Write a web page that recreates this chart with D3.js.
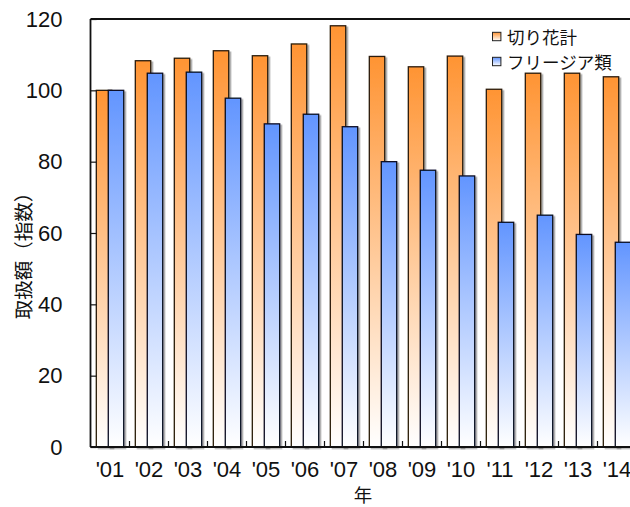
<!DOCTYPE html>
<html>
<head>
<meta charset="utf-8">
<script src="https://cdn.jsdelivr.net/npm/d3@7/dist/d3.min.js"></script>
<style>
  html, body { margin: 0; padding: 0; background: #fff; }
  svg { display: block; }
</style>
</head>
<body>
<svg id="chart" width="630" height="507"></svg>
<script>
// Index of trading value (2001 = 100)
const years = ["'01", "'02", "'03", "'04", "'05", "'06", "'07", "'08", "'09", "'10", "'11", "'12", "'13", "'14"];
const cutFlowers = [100, 108.3, 109.0, 111.1, 109.7, 113.0, 118.1, 109.5, 106.6, 109.6, 100.3, 104.8, 104.8, 103.8];
const freesia = [100, 104.8, 105.1, 97.8, 90.6, 93.3, 89.8, 80.0, 77.6, 76.0, 63.0, 65.0, 59.6, 57.4];
const seriesNames = ["切り花計", "フリージア類"];
const yTicks = [0, 20, 40, 60, 80, 100, 120];

const svg = d3.select("#chart");
const plotLeft = 90.5, plotTop = 19, plotBottom = 447, band = 39;

const x = d3.scaleBand().domain(years).range([plotLeft, plotLeft + band * years.length]);
const y = d3.scaleLinear().domain([0, 120]).range([plotBottom, plotTop]);
const bw = x.bandwidth();

const defs = svg.append("defs");
function grad(id, color) {
  const g = defs.append("linearGradient").attr("id", id)
    .attr("x1", 0).attr("y1", 0).attr("x2", 0).attr("y2", 1);
  g.append("stop").attr("offset", "0%").attr("stop-color", color);
  g.append("stop").attr("offset", "100%").attr("stop-color", "#ffffff");
}
grad("gOrange", "#ff9433");
grad("gBlue", "#6295ff");
const sh = defs.append("filter").attr("id", "shadow")
  .attr("x", "-30%").attr("y", "-10%").attr("width", "160%").attr("height", "120%");
sh.append("feDropShadow").attr("dx", 2).attr("dy", 1.5).attr("stdDeviation", 0.6)
  .attr("flood-color", "#000").attr("flood-opacity", 0.3);

const bars = svg.append("g");
const w = bw * 0.395;
const series = [
  { vals: cutFlowers, off: bw * 0.149, fill: "url(#gOrange)", stroke: "#2a1a0a" },
  { vals: freesia, off: bw * 0.456, fill: "url(#gBlue)", stroke: "#0a0f22" }
];
// draw per category so the blue bar sits over the orange one
years.forEach((yr, i) => {
  series.forEach(s => {
    bars.append("rect")
      .attr("x", x(yr) + s.off)
      .attr("y", y(s.vals[i]))
      .attr("width", w)
      .attr("height", y(0) - y(s.vals[i]))
      .attr("fill", s.fill)
      .attr("stroke", s.stroke)
      .attr("stroke-width", 1.3)
      .attr("filter", "url(#shadow)");
  });
});

// frame
const frame = svg.append("g").attr("stroke", "#111").attr("stroke-width", 1.8).attr("fill", "none");
frame.append("line").attr("x1", plotLeft).attr("x2", 630).attr("y1", plotTop).attr("y2", plotTop);
frame.append("line").attr("x1", plotLeft).attr("x2", plotLeft).attr("y1", plotTop).attr("y2", plotBottom);
frame.append("line").attr("x1", plotLeft).attr("x2", 630).attr("y1", plotBottom).attr("y2", plotBottom);

// y axis: inward ticks
const yAxis = svg.append("g").attr("transform", `translate(${plotLeft},0)`)
  .call(d3.axisLeft(y).tickValues(yTicks).tickSize(-6).tickPadding(28).tickFormat(d3.format("d")));
yAxis.select(".domain").remove();
yAxis.selectAll(".tick line").attr("stroke", "#111").attr("stroke-width", 1.2);
yAxis.selectAll(".tick text")
  .attr("font-family", "'Liberation Sans', Arial, sans-serif")
  .attr("font-size", 22).attr("fill", "#111");

// x axis: inward ticks at band boundaries
const bounds = years.slice(1).map(d => x(d));
svg.append("g").selectAll("line").data(bounds).join("line")
  .attr("x1", d => d).attr("x2", d => d)
  .attr("y1", plotBottom).attr("y2", plotBottom - 6)
  .attr("stroke", "#111").attr("stroke-width", 1.2);
const xAxis = svg.append("g").attr("transform", `translate(0,${plotBottom})`)
  .call(d3.axisBottom(x).tickSize(0).tickPadding(14));
xAxis.select(".domain").remove();
xAxis.selectAll(".tick text")
  .attr("font-family", "'Liberation Sans', Arial, sans-serif")
  .attr("font-size", 22).attr("fill", "#111");

// axis titles
svg.append("text").attr("x", 363).attr("y", 502).attr("text-anchor", "middle")
  .attr("font-family", "'Noto Sans CJK JP', sans-serif").attr("font-size", 18.5).attr("fill", "#111")
  .text("年");
svg.append("text").attr("transform", "translate(22,251) rotate(-90)")
  .attr("text-anchor", "middle").attr("dominant-baseline", "central")
  .attr("font-family", "'Noto Sans CJK JP', sans-serif").attr("font-size", 19.5).attr("fill", "#111")
  .text("取扱額（指数）");

// legend
const legend = svg.append("g");
const fills = ["url(#gOrange)", "url(#gBlue)"];
seriesNames.forEach((name, i) => {
  const cy = 36.5 + i * 25;
  legend.append("rect").attr("x", 492.5).attr("y", cy - 4.2).attr("width", 8.4).attr("height", 8.4)
    .attr("fill", fills[i]).attr("stroke", "#222").attr("stroke-width", 1);
  legend.append("text").attr("x", 507).attr("y", cy).attr("dominant-baseline", "central")
    .attr("font-family", "'Noto Sans CJK JP', sans-serif").attr("font-size", 17.5).attr("fill", "#111")
    .text(name);
});
</script>
</body>
</html>
